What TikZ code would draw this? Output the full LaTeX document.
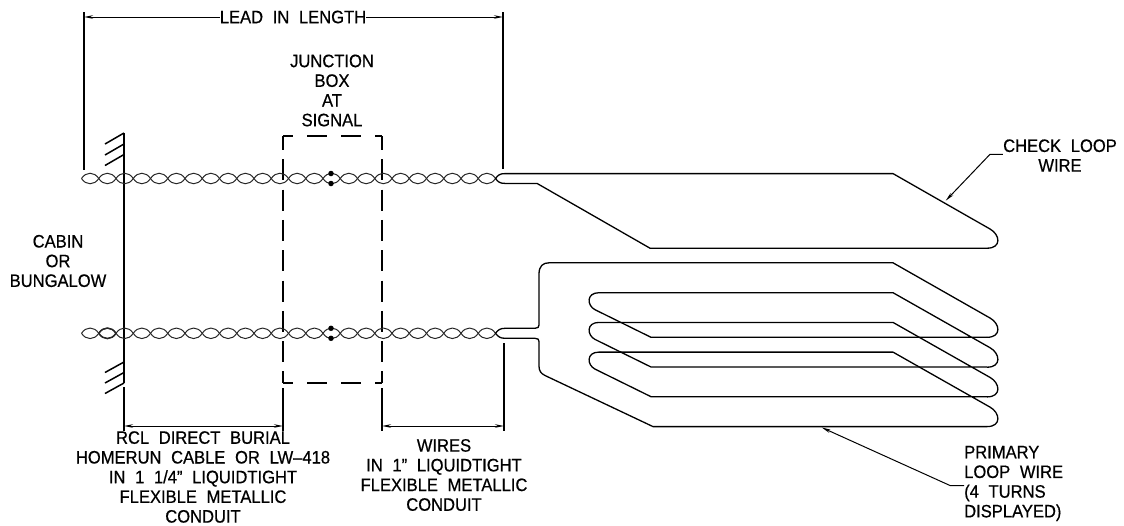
\documentclass[tikz,border=0pt]{standalone}
\usepackage{fontspec}
\setmainfont[FakeStretch=0.92,WordSpace=2.1,FakeBold=0.6]{Liberation Sans}
\usetikzlibrary{arrows.meta}

\tikzset{
  wire/.style={line width=1.3pt, line join=round},
  twist/.style={line width=1pt, black!85},
  dimline/.style={line width=1pt, -{Stealth[length=9pt,width=3.5pt]}},
  extline/.style={line width=1.5pt},
  boxline/.style={line width=1.8pt},
  label/.style={inner sep=0pt, align=center, font=\fontsize{18}{19.7}\selectfont},
  splice/.style={circle, fill=black, inner sep=0pt, minimum size=5.5pt},
}

\newcommand{\twistpair}[1]{
  \foreach \k in {0,...,23} {
    \pgfmathsetmacro{\xa}{81.5+17.25*\k}
    \draw[twist] (\xa,#1) .. controls (\xa+4.5,#1-7) and (\xa+12.75,#1-7) .. (\xa+17.25,#1);
    \draw[twist] (\xa,#1) .. controls (\xa+4.5,#1+7) and (\xa+12.75,#1+7) .. (\xa+17.25,#1);
  }
}

\begin{document}
\begin{tikzpicture}[x=1pt, y=-1pt]
    \useasboundingbox (0,0) rectangle (1124,525);

    \node[label] (leadin) at (293,17) {LEAD IN LENGTH};
    \node[label] (jbox) at (332,90.5) {JUNCTION\\BOX\\AT\\SIGNAL};
    \node[label] (cabin) at (58,261) {CABIN\\OR\\BUNGALOW};
    \node[label] (rcl) at (203,477)
      {RCL DIRECT BURIAL\\HOMERUN CABLE OR LW–418\\IN 1 1/4” LIQUIDTIGHT\\FLEXIBLE METALLIC\\CONDUIT};
    \node[label] (wires) at (444,475)
      {WIRES\\IN 1” LIQUIDTIGHT\\FLEXIBLE METALLIC\\CONDUIT};
    \node[label] (check) at (1060,155.5) {CHECK LOOP\\WIRE};
    \node[label, align=left, anchor=west] (primary) at (964,483.5)
      {PRIMARY\\LOOP WIRE\\(4 TURNS\\DISPLAYED)};

    \coordinate (leadl) at (84,17);
    \coordinate (leadr) at (503,17);
    \draw[extline] (84,12) -- (84,170);
    \draw[extline] (503,12) -- (503,169);
    \draw[dimline] (leadin) -- (leadl);
    \draw[dimline] (leadin) -- (leadr);

    % wall
    \draw[extline] (124,133) -- (124,383);
    \draw[extline] (124,387) -- (124,431);
    \foreach \y in {133,144,154.5} {
      \draw[extline] (124,\y) -- (105,\y+11);
    }
    \foreach \y in {362,372.5,383} {
      \draw[extline] (124,\y) -- (105,\y+10.5);
    }

    % junction box
    \draw[boxline, dash pattern=on 20pt off 14pt, dash phase=10pt] (283,136) -- (382,136);
    \draw[boxline, dash pattern=on 20pt off 14pt, dash phase=10pt] (283,383) -- (382,383);
    \draw[boxline, dash pattern=on 21pt off 9.3pt, dash phase=7pt] (283,136) -- (283,383);
    \draw[boxline, dash pattern=on 21pt off 9.3pt, dash phase=7pt] (382,136) -- (382,383);
    \draw[extline] (283,388) -- (283,431);
    \draw[extline] (382,388) -- (382,431);
    \draw[extline] (504,343) -- (504,431);

    \coordinate (rcll) at (124,426);
    \coordinate (rclr) at (283,426);
    \coordinate (wiresl) at (382,426);
    \coordinate (wiresr) at (504,426);
    \draw[dimline, {Stealth[length=9pt,width=3.5pt]}-{Stealth[length=9pt,width=3.5pt]}] (rcll) -- (rclr);
    \draw[dimline, {Stealth[length=9pt,width=3.5pt]}-{Stealth[length=9pt,width=3.5pt]}] (wiresl) -- (wiresr);

    % twisted pairs
    \twistpair{178.5}
    \twistpair{333.3}
    \draw[twist, line width=1.5pt] (98.75,333.3) .. controls (103.25,326.3) and (111.5,326.3) .. (116,333.3);
    \draw[twist, line width=1.5pt] (98.75,333.3) .. controls (103.25,340.3) and (111.5,340.3) .. (116,333.3);
    \node[splice] (topa) at (331,173.5) {};
    \node[splice] (topb) at (331,183.5) {};
    \node[splice] (lowa) at (331,328.3) {};
    \node[splice] (lowb) at (331,338.3) {};

    % check loop
    \draw[wire] (495.5,178.5) .. controls (498,175) and (500,173.6) .. (505,173.6)
      -- (893,173.6) -- (990,229)
      .. controls (1000,234.5) and (1002,248.2) .. (987,248.2)
      -- (650,248.2) -- (537,183.4) -- (505,183.4)
      .. controls (500,183.4) and (498,182) .. (495.5,178.5);

    % primary loop
    \draw[wire] (495.5,333.3) .. controls (498,330) and (500,328.3) .. (505,328.3)
      -- (535,328.3) .. controls (538,328.3) and (539,327) .. (539,325)
      -- (539,274) .. controls (539,266) and (543,262.8) .. (549,262.8)
      -- (893,262.8) -- (990,318)
      .. controls (1000,323.5) and (1002,337.3) .. (987,337.3);
    \foreach \y in {292.7,322.4,352.1} {
      \draw[wire] (987,\y+44.6) -- (651,\y+44.6) -- (595,\y+17)
        .. controls (587,\y+13) and (586,\y) .. (599,\y)
        -- (893,\y) -- (990,\y+55)
        .. controls (1000,\y+60.5) and (1002,\y+74.5) .. (987,\y+74.5);
    }
    \draw[wire] (987,426.6) -- (653,426.6) -- (545,375.5)
      .. controls (541,373.5) and (539,371) .. (539,366)
      -- (539,341.5) .. controls (539,339.5) and (538,338.3) .. (535,338.3)
      -- (505,338.3) .. controls (500,338.3) and (498,336.5) .. (495.5,333.3);

    % leaders
    \coordinate (checkbend) at (990,154.3);
    \coordinate (checktip) at (945.7,200.7);
    \coordinate (primarybend) at (950,485.5);
    \coordinate (primarytip) at (821.7,427.5);
    \draw[dimline] (check.west |- checkbend) -- (checkbend) -- (checktip);
    \draw[dimline] (primary.west |- primarybend) -- (primarybend) -- (primarytip);
  \end{tikzpicture}
\end{document}
